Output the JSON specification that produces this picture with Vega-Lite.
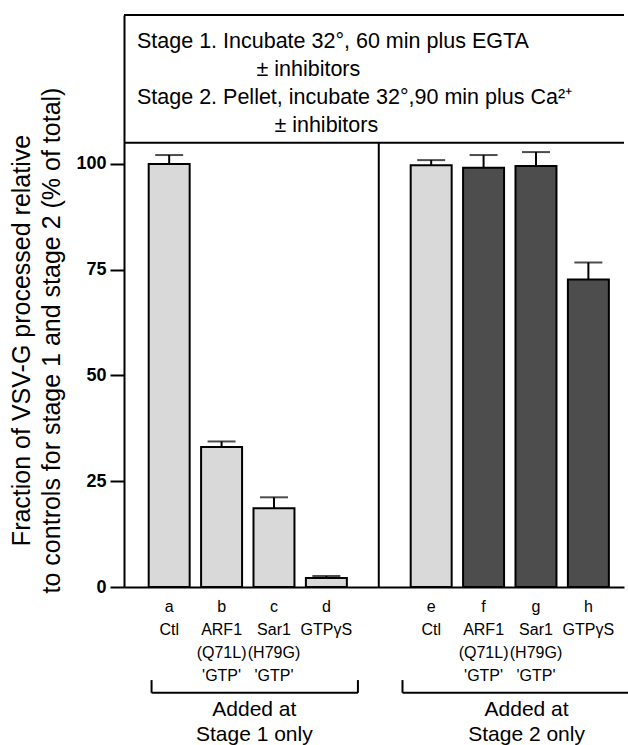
{
  "$schema": "https://vega.github.io/schema/vega-lite/v6.json",
  "autosize": "none",
  "padding": {"left": 124, "top": 15, "right": 4, "bottom": 158},
  "width": 500,
  "height": 572,
  "background": "white",
  "config": {
    "font": "Liberation Sans",
    "view": {"stroke": null},
    "axis": {"domainColor": "black", "domainWidth": 2, "tickColor": "black", "labelColor": "black", "titleColor": "black", "grid": false}
  },
  "title": {
    "text": [
      "Stage 1. Incubate 32°, 60 min plus EGTA",
      "\u200b\u00a0\u00a0\u00a0\u00a0\u00a0\u00a0\u00a0\u00a0\u00a0\u00a0\u00a0\u00a0\u00a0\u00a0\u00a0\u00a0\u00a0\u00a0\u00a0\u00a0± inhibitors",
      "Stage 2. Pellet, incubate 32°,90 min plus Ca²⁺",
      "\u200b\u00a0\u00a0\u00a0\u00a0\u00a0\u00a0\u00a0\u00a0\u00a0\u00a0\u00a0\u00a0\u00a0\u00a0\u00a0\u00a0\u00a0\u00a0\u00a0\u00a0\u00a0\u00a0\u00a0± inhibitors"
    ],
    "anchor": "start",
    "frame": "group",
    "orient": "top",
    "fontSize": 21.5,
    "fontWeight": "normal",
    "lineHeight": 28,
    "dx": 13,
    "offset": -139,
    "baseline": "alphabetic",
    "color": "black"
  },
  "datasets": {
    "lanes": [
      {"lane": "a", "treatment": "Ctl", "added": "none", "value": 100, "err": 102.1},
      {"lane": "b", "treatment": "ARF1 (Q71L) 'GTP'", "added": "Stage 1", "value": 33.1, "err": 34.4},
      {"lane": "c", "treatment": "Sar1 (H79G) 'GTP'", "added": "Stage 1", "value": 18.6, "err": 21.2},
      {"lane": "d", "treatment": "GTPγS", "added": "Stage 1", "value": 2.1, "err": 2.6},
      {"lane": "e", "treatment": "Ctl", "added": "none", "value": 99.7, "err": 100.9},
      {"lane": "f", "treatment": "ARF1 (Q71L) 'GTP'", "added": "Stage 2", "value": 99.1, "err": 102.1},
      {"lane": "g", "treatment": "Sar1 (H79G) 'GTP'", "added": "Stage 2", "value": 99.5, "err": 102.8},
      {"lane": "h", "treatment": "GTPγS", "added": "Stage 2", "value": 72.7, "err": 76.7}
    ],
    "brackets": [
      {"group": "Stage 1", "from": "a", "to": "d", "label": "Added at\nStage 1 only"},
      {"group": "Stage 2", "from": "e", "to": "h", "label": "Added at\nStage 2 only"}
    ]
  },
  "data": {"name": "lanes"},
  "layer": [
    {
      "mark": {"type": "bar", "stroke": "black", "strokeWidth": 2},
      "encoding": {
        "x": {
          "field": "lane", "type": "nominal", "title": null,
          "scale": {"domain": ["a", "b", "c", "d", " ", "e", "f", "g", "h"], "paddingInner": 0.218, "paddingOuter": 0.38, "align": 0.62},
          "axis": {
            "ticks": false, "tickSize": 0, "labelAngle": 0, "labelFontSize": 16, "labelLineHeight": 23, "labelPadding": 11,
            "labelExpr": "{'a':['a','Ctl'],'b':['b','ARF1','(Q71L)',\"'GTP'\"],'c':['c','Sar1','(H79G)',\"'GTP'\"],'d':['d','GTPγS'],'e':['e','Ctl'],'f':['f','ARF1','(Q71L)',\"'GTP'\"],'g':['g','Sar1','(H79G)',\"'GTP'\"],'h':['h','GTPγS']}[datum.value] || ''"
          }
        },
        "y": {
          "field": "value", "type": "quantitative",
          "scale": {"domain": [0, 135.2], "nice": false, "zero": true},
          "axis": {
            "title": ["Fraction of VSV-G processed relative", "to controls for stage 1 and stage 2 (% of total)"],
            "values": [0, 25, 50, 75, 100], "tickSize": 14, "tickWidth": 2, "labelFontSize": 18, "labelFontWeight": "bold", "labelPadding": 4,
            "titleFontSize": 25, "titleFontWeight": "normal", "titleLineHeight": 30, "titleY": 325, "titlePadding": 11
          }
        },
        "color": {
          "field": "added", "type": "nominal", "legend": null,
          "scale": {"domain": ["none", "Stage 1", "Stage 2"], "range": ["#d9d9d9", "#d9d9d9", "#4d4d4d"]}
        }
      }
    },
    {
      "mark": {"type": "rule", "color": "black", "strokeWidth": 2},
      "encoding": {
        "x": {"field": "lane", "type": "nominal"},
        "y": {"field": "value", "type": "quantitative"},
        "y2": {"field": "err"}
      }
    },
    {
      "mark": {"type": "tick", "color": "black", "size": 28, "thickness": 2},
      "encoding": {
        "x": {"field": "lane", "type": "nominal"},
        "y": {"field": "err", "type": "quantitative"}
      }
    },
    {
      "transform": [{"aggregate": [{"op": "count", "as": "n"}]}],
      "layer": [
        {"mark": {"type": "rule", "color": "black", "strokeWidth": 2}, "encoding": {"y": {"datum": 135.2}}},
        {"mark": {"type": "rule", "color": "black", "strokeWidth": 2}, "encoding": {"y": {"datum": 105}}},
        {"mark": {"type": "rule", "color": "black", "strokeWidth": 2}, "encoding": {"x": {"datum": " "}, "y": {"datum": 0}, "y2": {"datum": 105}}}
      ]
    },
    {
      "data": {"name": "brackets"},
      "transform": [{"filter": "datum.group == 'Stage 1'"}],
      "layer": [
        {"mark": {"type": "rule", "color": "black", "strokeWidth": 2}, "encoding": {"x": {"field": "from", "type": "nominal", "bandPosition": 0.07}, "x2": {"field": "to", "bandPosition": 1.27}, "y": {"datum": -25}}},
        {"mark": {"type": "rule", "color": "black", "strokeWidth": 2}, "encoding": {"x": {"field": "from", "type": "nominal", "bandPosition": 0.07}, "y": {"datum": -25}, "y2": {"datum": -22}}},
        {"mark": {"type": "rule", "color": "black", "strokeWidth": 2}, "encoding": {"x": {"field": "to", "type": "nominal", "bandPosition": 1.27}, "y": {"datum": -25}, "y2": {"datum": -22}}},
        {"mark": {"type": "text", "lineBreak": "\n", "fontSize": 21, "lineHeight": 25, "baseline": "alphabetic", "color": "black"}, "encoding": {"x": {"datum": "c", "bandPosition": 0.02}, "y": {"datum": -30.4}, "text": {"field": "label"}}}
      ]
    },
    {
      "data": {"name": "brackets"},
      "transform": [{"filter": "datum.group == 'Stage 2'"}],
      "layer": [
        {"mark": {"type": "rule", "color": "black", "strokeWidth": 2}, "encoding": {"x": {"field": "from", "type": "nominal", "bandPosition": -0.2}, "x2": {"field": "to", "bandPosition": 2}, "y": {"datum": -25}}},
        {"mark": {"type": "rule", "color": "black", "strokeWidth": 2}, "encoding": {"x": {"field": "from", "type": "nominal", "bandPosition": -0.2}, "y": {"datum": -25}, "y2": {"datum": -22}}},
        {"mark": {"type": "rule", "color": "black", "strokeWidth": 2}, "encoding": {"x": {"field": "to", "type": "nominal", "bandPosition": 2}, "y": {"datum": -25}, "y2": {"datum": -22}}},
        {"mark": {"type": "text", "lineBreak": "\n", "fontSize": 21, "lineHeight": 25, "baseline": "alphabetic", "color": "black"}, "encoding": {"x": {"datum": "g", "bandPosition": 0.27}, "y": {"datum": -30.4}, "text": {"field": "label"}}}
      ]
    }
  ]
}
